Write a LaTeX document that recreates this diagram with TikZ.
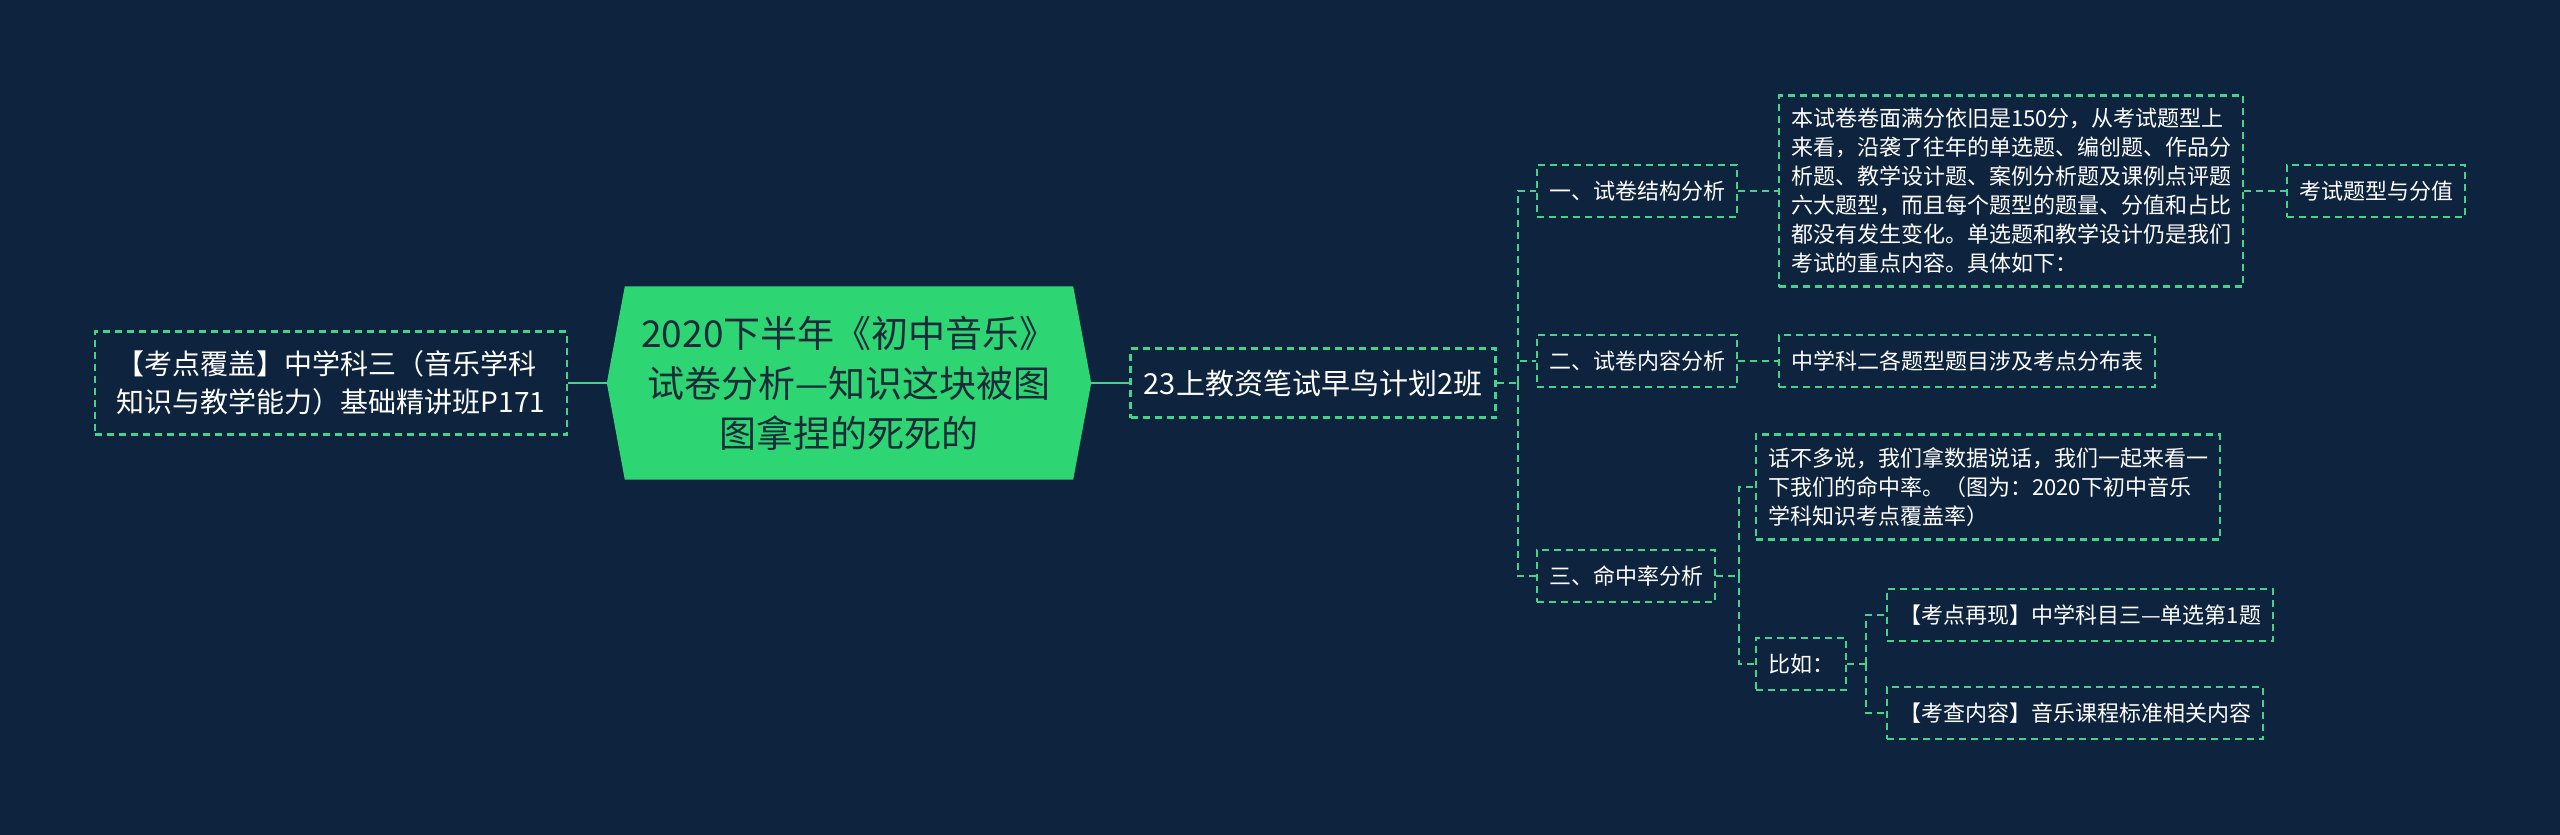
\documentclass[tikz,border=0pt]{standalone}
\usepackage{fontspec}
\setmainfont{Noto Sans CJK SC}
\usetikzlibrary{backgrounds}
\definecolor{navy}{RGB}{14,35,62}
\definecolor{leafgreen}{RGB}{66,212,138}
\definecolor{rootgreen}{RGB}{46,213,115}
\definecolor{rootink}{RGB}{27,43,58}

\begin{document}
\begin{tikzpicture}[x=1pt,y=-1pt,
    box/.style={draw=leafgreen, line width=2.4pt, dash pattern=on 7pt off 5pt, text=white,
      font=\fontsize{22}{29}\selectfont, inner xsep=12pt, inner ysep=13pt, align=left, anchor=west},
    small/.style={box, minimum height=52pt, inner ysep=0pt},
    link/.style={draw=leafgreen, line width=2.4pt, dash pattern=on 7pt off 5pt},
    stem/.style={draw=leafgreen, line width=2.8pt},
    elbow/.style={to path={|- (\tikztotarget)}}]
  \useasboundingbox (0,0) rectangle (2560,835);

  \node[box, anchor=center, font=\fontsize{28}{38}\selectfont, inner xsep=22pt, inner ysep=19pt] (cover) at (331,383)
    {【考点覆盖】中学科三（音乐学科\\知识与教学能力）基础精讲班P171};
  \node[font=\fontsize{37}{50}\selectfont, text=rootink, align=center, minimum width=484pt, minimum height=193pt] (root) at (849,383)
    {2020下半年《初中音乐》\\试卷分析—知识这块被图\\图拿捏的死死的};
  \node[box, anchor=center, font=\fontsize{29}{36}\selectfont, minimum width=365pt, minimum height=69pt, inner ysep=0pt] (plan) at (1313,383)
    {23上教资笔试早鸟计划2班};

  \coordinate (t0) at (1518,383);
  \node[small] (part1) at (1536,191) {一、试卷结构分析};
  \node[box] (detail1) at (1778,191)
    {本试卷卷面满分依旧是150分，从考试题型上\\来看，沿袭了往年的单选题、编创题、作品分\\析题、教学设计题、案例分析题及课例点评题\\六大题型，而且每个题型的题量、分值和占比\\都没有发生变化。单选题和教学设计仍是我们\\考试的重点内容。具体如下：};
  \node[small] (tag1) at (2286,191) {考试题型与分值};
  \node[small] (part2) at (1536,361) {二、试卷内容分析};
  \node[small] (detail2) at (1778,361) {中学科二各题型题目涉及考点分布表};
  \node[small] (part3) at (1536,576) {三、命中率分析};
  \coordinate (t3) at (1739,576);
  \node[box] (detail3) at (1755,487)
    {话不多说，我们拿数据说话，我们一起来看一\\下我们的命中率。（图为：2020下初中音乐\\学科知识考点覆盖率）};
  \node[small] (example) at (1755,664) {比如：};
  \coordinate (t4) at (1866,664);
  \node[small] (case1) at (1886,615) {【考点再现】中学科目三—单选第1题};
  \node[small] (case2) at (1886,713) {【考查内容】音乐课程标准相关内容};

  \path[stem] (cover.east) edge (root.west) (root.east) edge (plan.west);
  \path[link]
    (plan.east) edge (t0)
    (t0) edge[elbow] (part1.west) edge[elbow] (part2.west) edge[elbow] (part3.west)
    (part1) edge (detail1) (detail1) edge (tag1)
    (part2) edge (detail2)
    (part3.east) edge (t3)
    (t3) edge[elbow] (detail3.west) edge[elbow] (example.west)
    (example.east) edge (t4)
    (t4) edge[elbow] (case1.west) edge[elbow] (case2.west);

  \begin{scope}[on background layer]
    \fill[navy] (0,0) rectangle (2560,835);
    \fill[rootgreen] (root.west) -- ([xshift=18pt]root.north west) -- ([xshift=-18pt]root.north east)
      -- (root.east) -- ([xshift=-18pt]root.south east) -- ([xshift=18pt]root.south west) -- cycle;
  \end{scope}
\end{tikzpicture}
\end{document}
